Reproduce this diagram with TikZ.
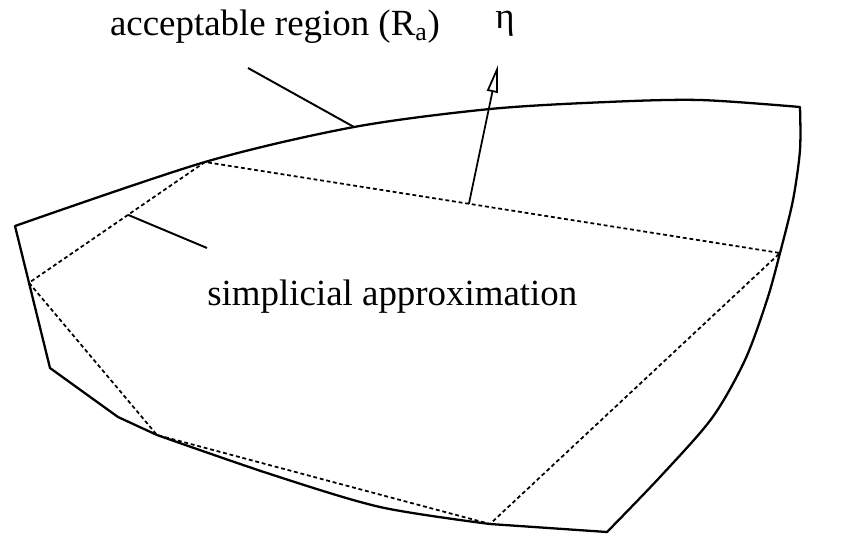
\documentclass[tikz,border=0pt]{standalone}
\usepackage{fontspec}
\setmainfont{Liberation Serif}
\usetikzlibrary{arrows.meta, calc}
\tikzset{
    % Line styles
    boundary/.style={
        line width=1.3pt,
        line join=round
    },
    simplex/.style={
        line width=1pt,
        dash pattern=on 2.2pt off 1.6pt
    },
    leader/.style={
        line width=1.1pt
    },
    % Arrow style - open head
    normalarrow/.style={
        -{Triangle[open, length=0.55cm, width=0.22cm]},
        line width=1pt
    },
    % Text style
    textlabel/.style={
        font=\fontsize{21}{25}\selectfont,
        inner sep=0pt
    }
}
\begin{document}
\begin{tikzpicture}[x=0.02cm, y=-0.02cm]
    \useasboundingbox (0,0) rectangle (849,535);

    % Corners of the acceptable region
    \coordinate (tl) at (15,226);
    \coordinate (tr) at (800,107);
    \coordinate (br) at (607,532);
    \coordinate (bl) at (50,368);

    % Vertices of the simplicial approximation
    \coordinate (v1) at (205,162);
    \coordinate (v2) at ($(tl)!0.4!(bl)$);
    \coordinate (v3) at (157,435);
    \coordinate (v4) at (490,524);
    \coordinate (v5) at (780,253);

    % Acceptable region
    \coordinate (ra) at (354,127);
    \draw[boundary] (bl) -- (tl)
        -- plot[smooth, tension=0.5] coordinates {(tl) (v1) (ra) (490,109) (607,102) (700,100) (tr)}
        -- plot[smooth, tension=0.5] coordinates {(tr) (800,150) (793,200) (v5) (767,300) (745,360) (712,418) (660,477) (br)}
        -- (v4)
        -- plot[smooth, tension=0.5] coordinates {(v4) (380,507) (270,474) (v3)}
        -- (118,417) -- cycle;

    % Simplicial approximation
    \draw[simplex] (v1) -- (v2) -- (v3) -- (v4) -- (v5) -- cycle;

    % Normal vector
    \coordinate (base) at ($(v1)!0.459!(v5)$);
    \coordinate (tip) at (498,65);
    \draw[normalarrow] (base) -- (tip);

    % Labels and leaders
    \node[textlabel, anchor=base] (racc) at (275,35) {acceptable region (R\textsubscript{a})};
    \node[textlabel, anchor=base] (eta) at (505,28) {η};
    \node[textlabel, anchor=base west] (simp) at (207,305) {simplicial approximation};

    \coordinate (rtext) at (248,68);
    \draw[leader] (rtext) -- (ra);
    \coordinate (sa) at ($(v1)!0.4375!(v2)$);
    \coordinate (stext) at (207,248);
    \draw[leader] (sa) -- (stext);
\end{tikzpicture}
\end{document}
